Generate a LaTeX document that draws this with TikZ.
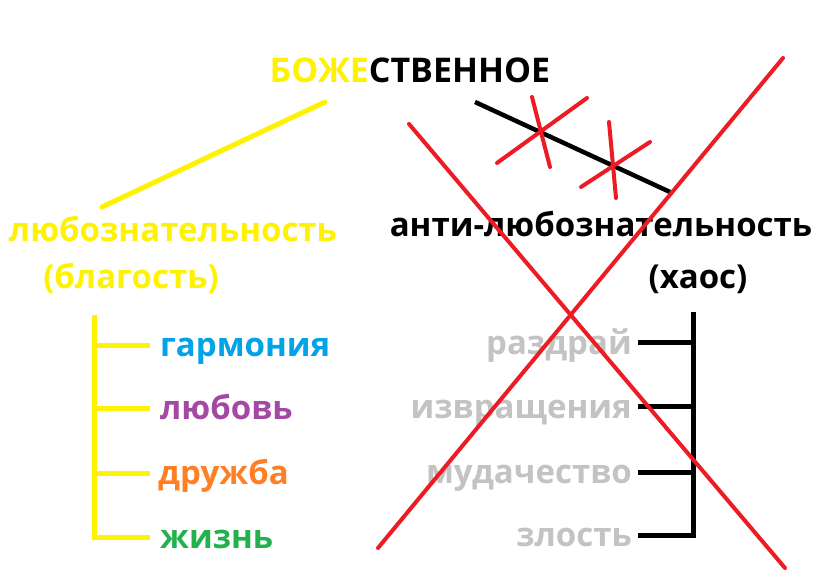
\documentclass[tikz,border=0pt]{standalone}
\usepackage{fontspec}
\setmainfont{Open Sans}
\definecolor{pyellow}{HTML}{FFF200}
\definecolor{pred}{HTML}{ED1C24}
\definecolor{pgray}{HTML}{C3C3C3}
\definecolor{pblue}{HTML}{00A2E8}
\definecolor{ppurple}{HTML}{A349A4}
\definecolor{porange}{HTML}{FF7F27}
\definecolor{pgreen}{HTML}{22B14C}
\tikzset{
  txt/.style={inner sep=0pt, font=\fontsize{33}{40}\selectfont\bfseries},
  ttl/.style={inner sep=0pt, font=\fontsize{34}{40}\selectfont\bfseries},
  yline/.style={draw=pyellow, line width=5pt},
  bline/.style={draw=black, line width=5pt},
  rline/.style={draw=pred, line width=4pt, line cap=round},
}
\begin{document}
\begin{tikzpicture}[x=1pt,y=-1pt]
\useasboundingbox[fill=white] (0,0) rectangle (823,580);
% title
\node[ttl, anchor=base] (title) at (410,83) {\textcolor{pyellow}{БОЖЕ}СТВЕННОЕ};
% left
\node[txt, anchor=base, text=pyellow] (good) at (173,242) {любознательность};
\node[txt, anchor=base, text=pyellow] (goodb) at (131,289) {(благость)};
\coordinate (ya) at (325,102);
\coordinate (yb) at (102,207);
\draw[yline, line cap=round] (ya) -- (yb);
\coordinate (ltop) at (94,315);
\coordinate (l1) at (94,346);
\coordinate (l2) at (94,409);
\coordinate (l3) at (94,473);
\coordinate (l4) at (94,537);
\coordinate (e1) at (150,346);
\coordinate (e2) at (150,409);
\coordinate (e3) at (150,473);
\coordinate (e4) at (150,537);
\node[txt, anchor=base west, text=pblue] (g1) at (160,357) {гармония};
\node[txt, anchor=base west, text=ppurple] (g2) at (160,420) {любовь};
\node[txt, anchor=base west, text=porange] (g3) at (158,484) {дружба};
\node[txt, anchor=base west, text=pgreen] (g4) at (160,548) {жизнь};
\draw[yline] (ltop) -- (l4) -- (e4);
\draw[yline] (l1) -- (e1);
\draw[yline] (l2) -- (e2);
\draw[yline] (l3) -- (e3);
% right
\node[txt, anchor=base] (anti) at (601,237) {анти-любознательность};
\node[txt, anchor=base] (chaos) at (698,289) {(хаос)};
\coordinate (rtop) at (693,312);
\coordinate (r1) at (693,343);
\coordinate (r2) at (693,407);
\coordinate (r3) at (693,472);
\coordinate (r4) at (693,535);
\coordinate (f1) at (638,343);
\coordinate (f2) at (638,407);
\coordinate (f3) at (638,472);
\coordinate (f4) at (638,535);
\node[txt, anchor=base east, text=pgray] (b1) at (632,355) {раздрай};
\node[txt, anchor=base east, text=pgray] (b2) at (632,418) {извращения};
\node[txt, anchor=base east, text=pgray] (b3) at (632,483) {мудачество};
\node[txt, anchor=base east, text=pgray] (b4) at (632,546) {злость};
\draw[bline] (rtop) -- (r4) -- (f4);
\draw[bline] (r1) -- (f1);
\draw[bline] (r2) -- (f2);
\draw[bline] (r3) -- (f3);
% crossed black link
\coordinate (ka) at (475,102);
\coordinate (kb) at (670,192);
\draw[black, line width=4.5pt] (ka) -- (kb);
\draw[rline] (532,97) -- (550,167);
\draw[rline] (497,163) -- (587,98);
\draw[rline] (609,122) -- (616,198);
\draw[rline] (581,187) -- (650,142);
% big cross
\draw[rline] (409,124) -- (785,568);
\draw[rline] (783,58) -- (378,548);
\end{tikzpicture}
\end{document}
